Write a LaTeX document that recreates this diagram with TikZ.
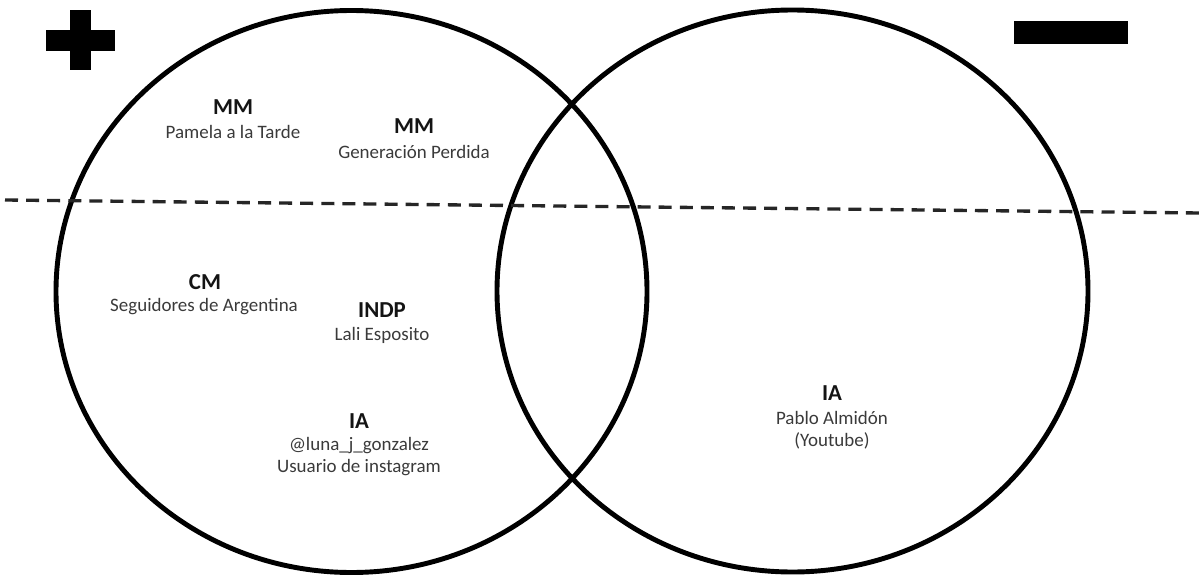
\documentclass[tikz,border=0pt]{standalone}
\usepackage{fontspec}
\setmainfont{Carlito}
\definecolor{subgray}{HTML}{3A3A3A}
\tikzset{
  ring/.style={line width=2.8pt},
  cut/.style={line width=1.9pt, dash pattern=on 7.4pt off 4.6pt, draw=black!85},
  cat/.style={font=\fontsize{13}{15}\selectfont\bfseries, text=black!92, inner sep=0pt},
  who/.style={font=\fontsize{10.8}{12}\selectfont, text=subgray, inner sep=0pt},
}
\begin{document}
\begin{tikzpicture}
    \useasboundingbox (0,0) rectangle (24,11.54);

    % the two sets
    \draw[ring] (7.03,5.71) ellipse (5.91 and 5.62);
    \draw[ring] (15.85,5.72) ellipse (5.91 and 5.62);

    % plus and minus
    \fill (0.92,10.52) rectangle (2.30,10.94);
    \fill (1.40,10.14) rectangle (1.82,11.34);
    \fill (20.28,10.66) rectangle (22.56,11.12);

    % dividing line
    \coordinate (cutL) at (0.1,7.54);
    \coordinate (cutR) at (24,7.28);
    \draw[cut] (cutL) -- (cutR);

    % left set
    \node[cat] (mmA)     at (4.66,9.40) {MM};
    \node[who] (pamela)  at (4.66,8.90) {Pamela a la Tarde};
    \node[cat] (mmB)     at (8.28,9.02) {MM};
    \node[who] (genper)  at (8.28,8.50) {Generación Perdida};
    \node[cat] (cm)      at (4.10,5.90) {CM};
    \node[who] (seguid)  at (4.08,5.40) {Seguidores de Argentina};
    \node[cat] (indp)    at (7.64,5.34) {INDP};
    \node[who] (lali)    at (7.64,4.84) {Lali Esposito};
    \node[cat] (iaA)     at (7.18,3.12) {IA};
    \node[who] (luna)    at (7.18,2.62) {@luna\_j\_gonzalez};
    \node[who] (usuario) at (7.18,2.18) {Usuario de instagram};

    % right set
    \node[cat] (iaB)     at (16.64,3.68) {IA};
    \node[who] (pablo)   at (16.64,3.18) {Pablo Almidón};
    \node[who] (youtube) at (16.64,2.72) {(Youtube)};
\end{tikzpicture}
\end{document}
